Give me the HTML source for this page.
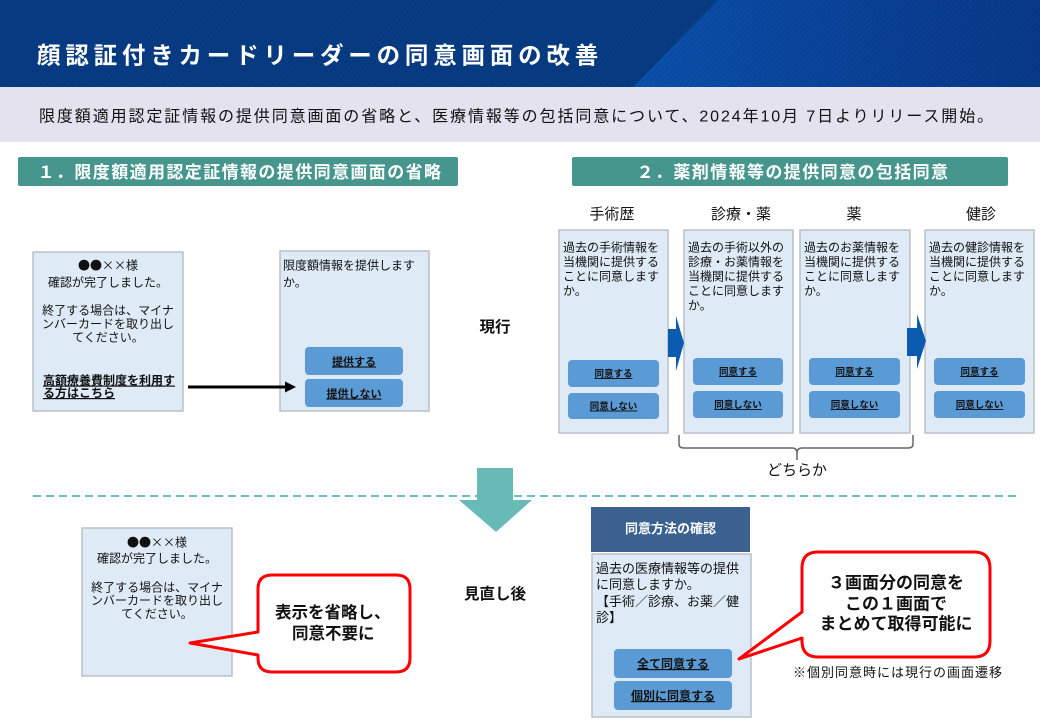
<!DOCTYPE html>
<html><head><meta charset="utf-8">
<style>
html,body{margin:0;padding:0;background:#fff;width:1040px;height:720px;overflow:hidden}
svg{display:block}
</style></head>
<body>
<svg width="1040" height="720" viewBox="0 0 1040 720" xmlns="http://www.w3.org/2000/svg" font-family="'Liberation Sans','Noto Sans CJK JP',sans-serif">
<defs>
<pattern id="st" width="4" height="4" patternUnits="userSpaceOnUse" patternTransform="rotate(45)">
<rect width="1.5" height="4" fill="#000" opacity="0.09"/>
</pattern>
<linearGradient id="hg" x1="0" y1="0" x2="1" y2="0">
<stop offset="0" stop-color="#0b52ae"/>
<stop offset="0.5" stop-color="#0a449c"/>
<stop offset="1" stop-color="#08398a"/>
</linearGradient>
</defs>

<!-- header -->
<rect x="0" y="0" width="1040" height="87" fill="#073c85"/>
<polygon points="718,0 1040,0 1040,87 633,87" fill="url(#hg)"/>
<rect x="0" y="0" width="1040" height="87" fill="url(#st)"/>
<text x="37" y="63.5" font-size="23.5" font-weight="bold" fill="#fff" letter-spacing="4.8">顔認証付きカードリーダーの同意画面の改善</text>

<!-- gray band -->
<rect x="0" y="87" width="1040" height="55" fill="#e3e2ee"/>
<text x="39" y="121.5" font-size="16" fill="#111" letter-spacing="1.9">限度額適用認定証情報の提供同意画面の省略と、医療情報等の包括同意について、2024年10月 7日よりリリース開始。</text>

<!-- section headers -->
<rect x="18" y="157" width="440" height="29" rx="2" fill="#46968e"/>
<text x="240" y="178" font-size="17" font-weight="bold" fill="#fff" text-anchor="middle" letter-spacing="1.4">１．限度額適用認定証情報の提供同意画面の省略</text>
<rect x="572" y="157" width="436" height="29" rx="2" fill="#46968e"/>
<text x="793" y="178" font-size="17" font-weight="bold" fill="#fff" text-anchor="middle" letter-spacing="1.4">２．薬剤情報等の提供同意の包括同意</text>

<!-- top-left screen 1 -->
<rect x="33" y="252" width="150" height="159" fill="#deeaf6" stroke="#bcc0c6" stroke-width="1.5"/>
<g font-size="12" fill="#111" text-anchor="middle">
<text x="108" y="269.5" font-family="'Noto Sans CJK JP',sans-serif">●●××様</text>
<text x="108" y="286.5">確認が完了しました。</text>
<text x="108" y="314.5">終了する場合は、マイナ</text>
<text x="108" y="328">ンバーカードを取り出し</text>
<text x="108" y="341.5">てください。</text>
</g>
<g font-size="12" font-weight="bold" fill="#111">
<text x="43" y="384.5" text-decoration="underline">高額療養費制度を利用す</text>
<text x="43" y="397" text-decoration="underline">る方はこちら</text>
</g>

<!-- top-left screen 2 -->
<rect x="280" y="251" width="149" height="160" fill="#deeaf6" stroke="#bcc0c6" stroke-width="1.5"/>
<text x="283" y="269.5" font-size="12" fill="#111">限度額情報を提供します</text>
<text x="283" y="286.5" font-size="12" fill="#111">か。</text>
<rect x="305" y="347" width="98" height="28" rx="4" fill="#5b9bd5"/>
<rect x="305" y="379" width="98" height="28" rx="4" fill="#5b9bd5"/>
<text x="354" y="365.5" font-size="11" font-weight="bold" fill="#111" text-anchor="middle" text-decoration="underline">提供する</text>
<text x="354" y="397.5" font-size="11" font-weight="bold" fill="#111" text-anchor="middle" text-decoration="underline">提供しない</text>

<!-- arrow (drawn over box) -->
<line x1="188" y1="387" x2="287" y2="387" stroke="#000" stroke-width="3"/>
<polygon points="285,381.5 296,387 285,392.5" fill="#000"/>

<text x="495" y="332" font-size="15.5" font-weight="bold" fill="#111" text-anchor="middle">現行</text>

<!-- right panels labels -->
<g font-size="15" fill="#111" text-anchor="middle">
<text x="612" y="219">手術歴</text>
<text x="741" y="219">診療・薬</text>
<text x="854" y="219">薬</text>
<text x="981" y="219">健診</text>
</g>

<!-- panels -->
<g fill="#deeaf6" stroke="#bcc0c6" stroke-width="1.5">
<rect x="559" y="230" width="109" height="203"/>
<rect x="684" y="230" width="109" height="203"/>
<rect x="800" y="230" width="110" height="203"/>
<rect x="925" y="230" width="109" height="203"/>
</g>
<g font-size="12" fill="#111">
<text x="563" y="251.5">過去の手術情報を</text>
<text x="563" y="266">当機関に提供する</text>
<text x="563" y="280.5">ことに同意します</text>
<text x="563" y="295">か。</text>

<text x="688" y="251.5">過去の手術以外の</text>
<text x="688" y="266">診療・お薬情報を</text>
<text x="688" y="280.5">当機関に提供する</text>
<text x="688" y="295">ことに同意します</text>
<text x="688" y="309.5">か。</text>

<text x="804" y="251.5">過去のお薬情報を</text>
<text x="804" y="266">当機関に提供する</text>
<text x="804" y="280.5">ことに同意します</text>
<text x="804" y="295">か。</text>

<text x="929" y="251.5">過去の健診情報を</text>
<text x="929" y="266">当機関に提供する</text>
<text x="929" y="280.5">ことに同意します</text>
<text x="929" y="295">か。</text>
</g>

<!-- panel buttons -->
<g fill="#5b9bd5">
<rect x="568" y="360" width="91" height="27" rx="4"/>
<rect x="568" y="393" width="91" height="26" rx="4"/>
<rect x="693" y="358" width="90" height="27" rx="4"/>
<rect x="693" y="391" width="90" height="27" rx="4"/>
<rect x="809" y="358" width="91" height="27" rx="4"/>
<rect x="809" y="391" width="91" height="27" rx="4"/>
<rect x="934" y="358" width="91" height="27" rx="4"/>
<rect x="934" y="391" width="91" height="27" rx="4"/>
</g>
<g font-size="9.5" font-weight="bold" fill="#111" text-anchor="middle">
<text x="613.5" y="377" text-decoration="underline">同意する</text>
<text x="613.5" y="409.5" text-decoration="underline">同意しない</text>
<text x="738" y="375" text-decoration="underline">同意する</text>
<text x="738" y="408" text-decoration="underline">同意しない</text>
<text x="854.5" y="375" text-decoration="underline">同意する</text>
<text x="854.5" y="408" text-decoration="underline">同意しない</text>
<text x="979.5" y="375" text-decoration="underline">同意する</text>
<text x="979.5" y="408" text-decoration="underline">同意しない</text>
</g>

<!-- blue arrows -->
<polygon points="668,329 676,329 676,316 684,343 676,371 676,357 668,357" fill="#0b5cb0"/>
<polygon points="907,328 917,328 917,314 926,341 917,369 917,356 907,356" fill="#0b5cb0"/>

<!-- brace -->
<path d="M679,435 V444 Q679,448 684,448 H792 Q797,448 797,453 V460 M797,453 Q797,448 802,448 H908 Q913,448 913,444 V435" fill="none" stroke="#666" stroke-width="1.5"/>
<text x="797" y="475" font-size="15" fill="#111" text-anchor="middle">どちらか</text>

<!-- dashed divider -->
<line x1="33" y1="496" x2="1020" y2="496" stroke="#6dbfba" stroke-width="2" stroke-dasharray="8,5"/>
<polygon points="477,468 513,468 513,500 532,500 496,532 459,500 477,500" fill="#68bab6"/>

<!-- bottom-left screen -->
<rect x="82" y="528" width="150" height="148" fill="#deeaf6" stroke="#bcc0c6" stroke-width="1.5"/>
<g font-size="12" fill="#111" text-anchor="middle">
<text x="157" y="546.5" font-family="'Noto Sans CJK JP',sans-serif">●●××様</text>
<text x="157" y="562.5">確認が完了しました。</text>
<text x="157" y="591.5">終了する場合は、マイナ</text>
<text x="157" y="604.5">ンバーカードを取り出し</text>
<text x="157" y="618">てください。</text>
</g>

<!-- callout 1 -->
<path d="M272,575 H396 Q410,575 410,589 V658 Q410,672 396,672 H272 Q258,672 258,658 V655 L190,643 L258,632 V589 Q258,575 272,575 Z" fill="#fff" stroke="#ff0000" stroke-width="3" stroke-linejoin="round"/>
<text x="275" y="618" font-size="16.5" font-weight="bold" fill="#111">表示を省略し、</text>
<text x="292" y="639" font-size="16.5" font-weight="bold" fill="#111">同意不要に</text>

<text x="495" y="599" font-size="15.5" font-weight="bold" fill="#111" text-anchor="middle">見直し後</text>

<!-- bottom-right -->
<rect x="591" y="507" width="159" height="45" fill="#3a6190"/>
<text x="670.5" y="533" font-size="13" font-weight="bold" fill="#fff" text-anchor="middle">同意方法の確認</text>
<rect x="592" y="554" width="159" height="163" fill="#deeaf6" stroke="#bcc0c6" stroke-width="1.5"/>
<g font-size="13" fill="#111">
<text x="596" y="573">過去の医療情報等の提供</text>
<text x="596" y="589">に同意しますか。</text>
<text x="596" y="606">【手術／診療、お薬／健</text>
<text x="596" y="622">診】</text>
</g>
<rect x="614" y="649" width="118" height="29" rx="4" fill="#5b9bd5"/>
<rect x="614" y="681" width="118" height="29" rx="4" fill="#5b9bd5"/>
<text x="673" y="668" font-size="12" font-weight="bold" fill="#111" text-anchor="middle" text-decoration="underline">全て同意する</text>
<text x="673" y="700" font-size="12" font-weight="bold" fill="#111" text-anchor="middle" text-decoration="underline">個別に同意する</text>

<!-- callout 2 -->
<path d="M818,552 H974 Q990,552 990,568 V641 Q990,657 974,657 H818 Q802,657 802,641 V638 L739,659 L802,612 V568 Q802,552 818,552 Z" fill="#fff" stroke="#ff0000" stroke-width="3" stroke-linejoin="round"/>
<g font-size="17" font-weight="bold" fill="#111" text-anchor="middle">
<text x="896" y="588.5">３画面分の同意を</text>
<text x="896" y="609.5">この１画面で</text>
<text x="896" y="629.5">まとめて取得可能に</text>
</g>
<text x="793" y="677" font-size="13" fill="#111" letter-spacing="1">※個別同意時には現行の画面遷移</text>
</svg>
</body></html>
